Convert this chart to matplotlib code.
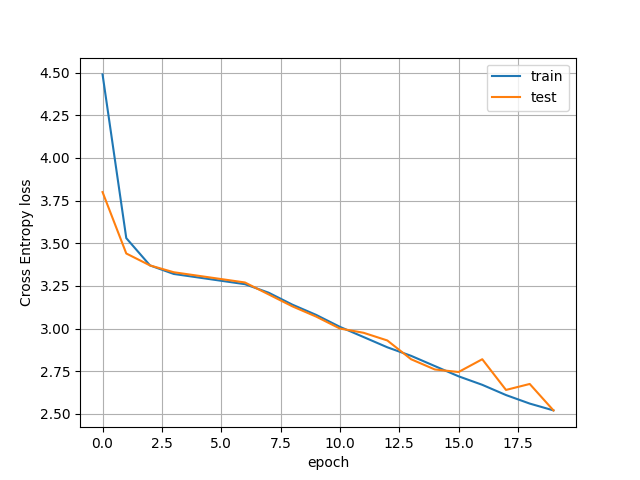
import matplotlib
matplotlib.use("Agg")
import matplotlib.pyplot as plt

epochs = list(range(20))
train_loss = [4.49, 3.53, 3.37, 3.32, 3.30, 3.28, 3.26, 3.21, 3.14, 3.08,
              3.01, 2.95, 2.89, 2.84, 2.78, 2.72, 2.67, 2.61, 2.56, 2.52]
test_loss = [3.80, 3.44, 3.37, 3.33, 3.31, 3.29, 3.27, 3.20, 3.13, 3.07,
             3.00, 2.975, 2.93, 2.82, 2.76, 2.745, 2.82, 2.64, 2.675, 2.52]

plt.figure(figsize=(6.4, 4.8), dpi=100)
plt.plot(epochs, train_loss, label="train")
plt.plot(epochs, test_loss, label="test")
plt.xlabel("epoch")
plt.ylabel("Cross Entropy loss")
plt.legend()
plt.grid()
plt.savefig("out.png")
